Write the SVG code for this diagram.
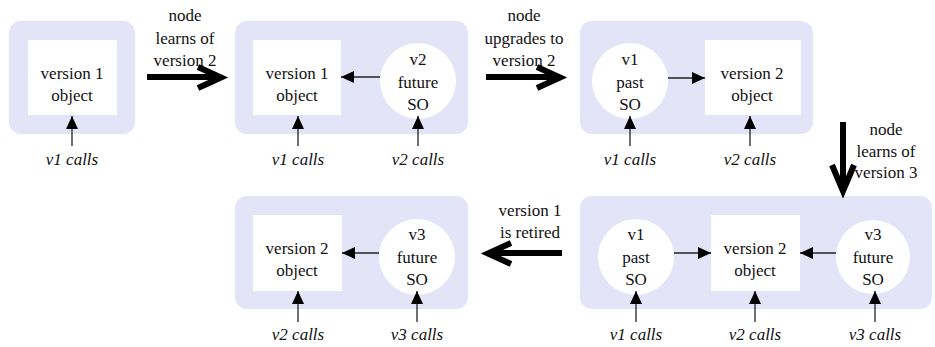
<svg xmlns="http://www.w3.org/2000/svg" width="935" height="347" viewBox="0 0 935 347">
<defs>
<style>
.panel{fill:#e4e4f8}
.box{fill:#fff}
text{font-family:'Liberation Serif','Times New Roman',serif;font-size:17px;fill:#111;text-anchor:middle}
.i{font-style:italic}
.ln{stroke:#222;stroke-width:1.3;fill:none}
.big{stroke:#000;stroke-width:6;fill:none}
</style>
<marker id="ah" markerUnits="userSpaceOnUse" markerWidth="14" markerHeight="12" refX="13" refY="6" orient="auto">
<path d="M0,0 L13,6 L0,12 Z" fill="#000"/>
</marker>
</defs>
<rect width="935" height="347" fill="#fff"/>

<g id="panel1">
<rect class="panel" x="9" y="21" width="126" height="113" rx="12"/>
<rect class="box" x="28" y="40" width="89" height="75"/>
<text x="72" y="79">version 1</text>
<text x="72" y="101">object</text>
</g>

<g id="panel2">
<rect class="panel" x="235" y="21" width="233" height="113" rx="12"/>
<rect class="box" x="253" y="40" width="88" height="75"/>
<text x="297" y="79">version 1</text>
<text x="297" y="101">object</text>
<circle class="box" cx="418" cy="81" r="38"/>
<text x="418" y="65">v2</text>
<text x="418" y="88">future</text>
<text x="418" y="110">SO</text>
</g>

<g id="panel3">
<rect class="panel" x="580" y="21" width="233" height="113" rx="12"/>
<circle class="box" cx="630" cy="81" r="38"/>
<text x="630" y="65">v1</text>
<text x="630" y="88">past</text>
<text x="630" y="110">SO</text>
<rect class="box" x="705" y="40" width="96" height="75"/>
<text x="752" y="79">version 2</text>
<text x="752" y="101">object</text>
</g>

<g id="panel4">
<rect class="panel" x="235" y="196" width="233" height="113" rx="12"/>
<rect class="box" x="253" y="215" width="89" height="76"/>
<text x="297" y="254">version 2</text>
<text x="297" y="276">object</text>
<circle class="box" cx="417" cy="257" r="38"/>
<text x="417" y="240">v3</text>
<text x="417" y="263">future</text>
<text x="417" y="285">SO</text>
</g>

<g id="panel5">
<rect class="panel" x="580" y="196" width="352" height="113" rx="12"/>
<circle class="box" cx="636" cy="257" r="38"/>
<text x="636" y="240">v1</text>
<text x="636" y="263">past</text>
<text x="636" y="285">SO</text>
<rect class="box" x="711" y="215" width="89" height="76"/>
<text x="755" y="254">version 2</text>
<text x="755" y="276">object</text>
<circle class="box" cx="873" cy="257" r="37"/>
<text x="873" y="240">v3</text>
<text x="873" y="263">future</text>
<text x="873" y="285">SO</text>
</g>

<g id="callLabels">
<text class="i" x="72" y="165">v1 calls</text>
<text class="i" x="298" y="165">v1 calls</text>
<text class="i" x="418" y="165">v2 calls</text>
<text class="i" x="630" y="165">v1 calls</text>
<text class="i" x="750" y="165">v2 calls</text>
<text class="i" x="298" y="340">v2 calls</text>
<text class="i" x="417" y="340">v3 calls</text>
<text class="i" x="636" y="340">v1 calls</text>
<text class="i" x="755" y="340">v2 calls</text>
<text class="i" x="875" y="340">v3 calls</text>
</g>

<g id="stepLabels">
<text x="185" y="21">node</text>
<text x="185" y="44">learns of</text>
<text x="185" y="66">version 2</text>
<text x="524" y="21">node</text>
<text x="524" y="44">upgrades to</text>
<text x="524" y="66">version 2</text>
<text x="886" y="135">node</text>
<text x="886" y="157">learns of</text>
<text x="886" y="178">version 3</text>
<text x="530" y="216">version 1</text>
<text x="530" y="238">is retired</text>
</g>

<g id="connectors">
<line class="ln" x1="72" y1="146" x2="72" y2="116" marker-end="url(#ah)"/>
<line class="ln" x1="298" y1="146" x2="298" y2="116" marker-end="url(#ah)"/>
<line class="ln" x1="418" y1="146" x2="418" y2="116" marker-end="url(#ah)"/>
<line class="ln" x1="630" y1="146" x2="630" y2="116" marker-end="url(#ah)"/>
<line class="ln" x1="750" y1="146" x2="750" y2="116" marker-end="url(#ah)"/>
<line class="ln" x1="380" y1="77" x2="341" y2="77" marker-end="url(#ah)"/>
<line class="ln" x1="668" y1="78" x2="705" y2="78" marker-end="url(#ah)"/>

<line class="ln" x1="298" y1="322" x2="298" y2="291" marker-end="url(#ah)"/>
<line class="ln" x1="417" y1="322" x2="417" y2="291" marker-end="url(#ah)"/>
<line class="ln" x1="636" y1="322" x2="636" y2="291" marker-end="url(#ah)"/>
<line class="ln" x1="755" y1="322" x2="755" y2="291" marker-end="url(#ah)"/>
<line class="ln" x1="875" y1="322" x2="875" y2="291" marker-end="url(#ah)"/>
<line class="ln" x1="379" y1="253" x2="342" y2="253" marker-end="url(#ah)"/>
<line class="ln" x1="674" y1="253" x2="711" y2="253" marker-end="url(#ah)"/>
<line class="ln" x1="836" y1="253" x2="800" y2="253" marker-end="url(#ah)"/>

<g id="bigArrow1" class="big">
<path d="M147,77 H220"/>
<path d="M198,67 L221,77.5 L198,88"/>
</g>
<g id="bigArrow2" class="big">
<path d="M486,77 H559"/>
<path d="M537,67 L560,77.5 L537,88"/>
</g>
<g id="bigArrow3" class="big">
<path d="M843,122 V190"/>
<path d="M832,165 L843,191 L854,165"/>
</g>
<g id="bigArrow4" class="big">
<path d="M562,253 H489"/>
<path d="M511,243 L488,253.5 L511,264"/>
</g>
</g>
</svg>
